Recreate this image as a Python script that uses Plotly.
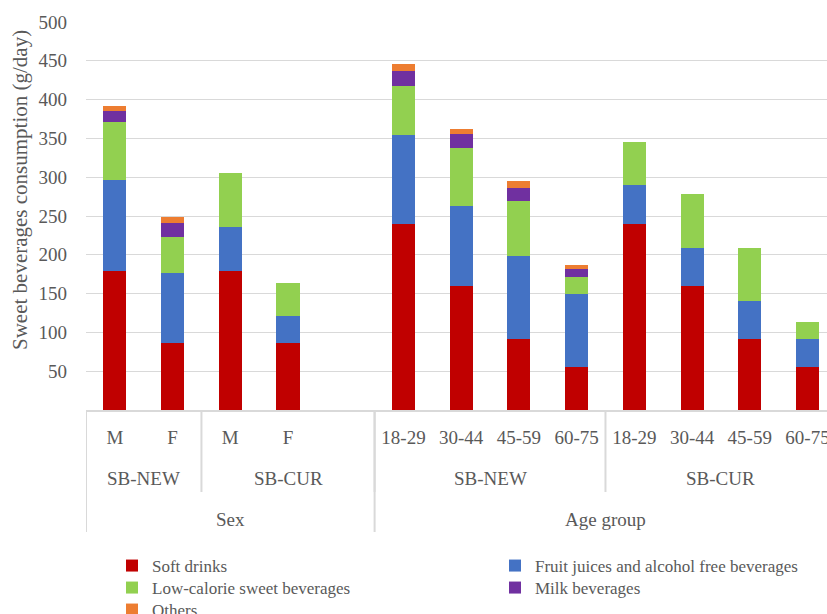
import plotly.graph_objects as go

# ---- data ----
level1 = ["M", "F", "M", "F", "", "18-29", "30-44", "45-59", "60-75", "18-29", "30-44", "45-59", "60-75"]
level2 = [("SB-NEW", 0, 1), ("SB-CUR", 2, 4), ("SB-NEW", 5, 8), ("SB-CUR", 9, 12)]
level3 = [("Sex", 0, 4), ("Age group", 5, 12)]

soft_drinks = [179, 86, 179, 86, None, 240, 160, 92, 55, 240, 160, 92, 55]
fruit_juices = [118, 91, 57, 35, None, 114.5, 103, 107, 95, 50, 48.6, 48, 37]
low_calorie = [74, 46, 69.5, 42.5, None, 63, 75, 70.5, 21.5, 55, 69.5, 69, 21]
milk = [14, 18, 0, 0, None, 19, 18, 17, 10, 0, 0, 0, 0]
others = [7, 8, 0, 0, None, 9, 6.5, 9, 5, 0, 0, 0, 0]

series_names = ["Soft drinks", "Fruit juices and alcohol free beverages",
                "Low-calorie sweet beverages", "Milk beverages", "Others"]
series_values = [soft_drinks, fruit_juices, low_calorie, milk, others]
series_colors = ["#C00000", "#4472C4", "#92D050", "#7030A0", "#ED7D31"]
y_ticks = [50, 100, 150, 200, 250, 300, 350, 400, 450, 500]

FONT = "Palatino Linotype, Book Antiqua, Palatino, Liberation Serif, serif"
GREY = "#595959"
LINE = "#D9D9D9"

W, H = 827, 614
ml, mt, mb = 86, 22, 204
plot_w = W - ml
plot_h = H - mt - mb
slot_px = 57.72
x_max = -0.5 + plot_w / slot_px


def py(px):
    return (H - mb - px) / plot_h


def pxx(px):
    return (px - ml) / plot_w


# legend placement (one legend per entry: two columns, three rows)
legend_cols = [112, 495]
legend_rows = [565, 587, 609]
legend_slots = [(0, 0), (1, 0), (0, 1), (1, 1), (0, 2)]

xs = list(range(len(level1)))
fig = go.Figure()
legend_layout = {}
for i, (name, vals, col) in enumerate(zip(series_names, series_values, series_colors)):
    key = "legend" if i == 0 else f"legend{i + 1}"
    fig.add_trace(go.Bar(x=xs, y=vals, name=name, legend=key,
                         marker=dict(color=col, line=dict(width=0))))
    c, r = legend_slots[i]
    legend_layout[key] = dict(x=pxx(legend_cols[c]), xanchor="left",
                              y=py(legend_rows[r] - 17), yanchor="top",
                              orientation="v", font=dict(size=17, color=GREY, family=FONT),
                              itemclick=False, itemdoubleclick=False,
                              bgcolor="rgba(0,0,0,0)", borderwidth=0)

annotations = []
shapes = []
for name, a, b in level2:
    annotations.append(dict(x=(a + b) / 2, y=py(478), xref="x", yref="paper", text=name,
                            showarrow=False, font=dict(size=19, color=GREY, family=FONT),
                            xanchor="center", yanchor="middle"))
    shapes.append(dict(type="line", xref="x", yref="paper", x0=a - 0.5, x1=a - 0.5,
                       y0=0, y1=py(492), line=dict(color=LINE, width=2)))
for name, a, b in level3:
    annotations.append(dict(x=(a + b) / 2, y=py(519), xref="x", yref="paper", text=name,
                            showarrow=False, font=dict(size=19, color=GREY, family=FONT),
                            xanchor="center", yanchor="middle"))
    shapes.append(dict(type="line", xref="x", yref="paper", x0=a - 0.5, x1=a - 0.5,
                       y0=0, y1=py(532), line=dict(color=LINE, width=2)))

annotations.append(dict(x=pxx(20), y=py(190), xref="paper", yref="paper",
                        text="Sweet beverages consumption (g/day)",
                        showarrow=False, textangle=-90, font=dict(size=21, color=GREY, family=FONT),
                        xanchor="center", yanchor="middle"))

fig.update_layout(
    width=W, height=H,
    margin=dict(l=ml, r=0, t=mt, b=mb, pad=0, autoexpand=False),
    barmode="stack", bargap=0.6,
    plot_bgcolor="white", paper_bgcolor="white",
    font=dict(family=FONT, color=GREY, size=19),
    showlegend=True,
    annotations=annotations,
    shapes=shapes,
    **legend_layout,
)
fig.update_xaxes(range=[-0.5, x_max], tickmode="array", tickvals=xs, ticktext=level1,
                 showgrid=False, zeroline=False, showline=True, linecolor=LINE, linewidth=2,
                 ticks="", ticklabelstandoff=9, ticklabeloverflow="allow",
                 tickfont=dict(size=19, color=GREY, family=FONT), fixedrange=True)
fig.update_yaxes(range=[0, 500], tickmode="array", tickvals=y_ticks,
                 showgrid=True, gridcolor=LINE, gridwidth=1.3, zeroline=False, showline=False,
                 ticks="", ticklabelstandoff=18, tickfont=dict(size=19, color=GREY, family=FONT),
                 fixedrange=True)

fig.write_html("out.html", config={"displayModeBar": False},
               post_script="document.body.style.margin='0';")
